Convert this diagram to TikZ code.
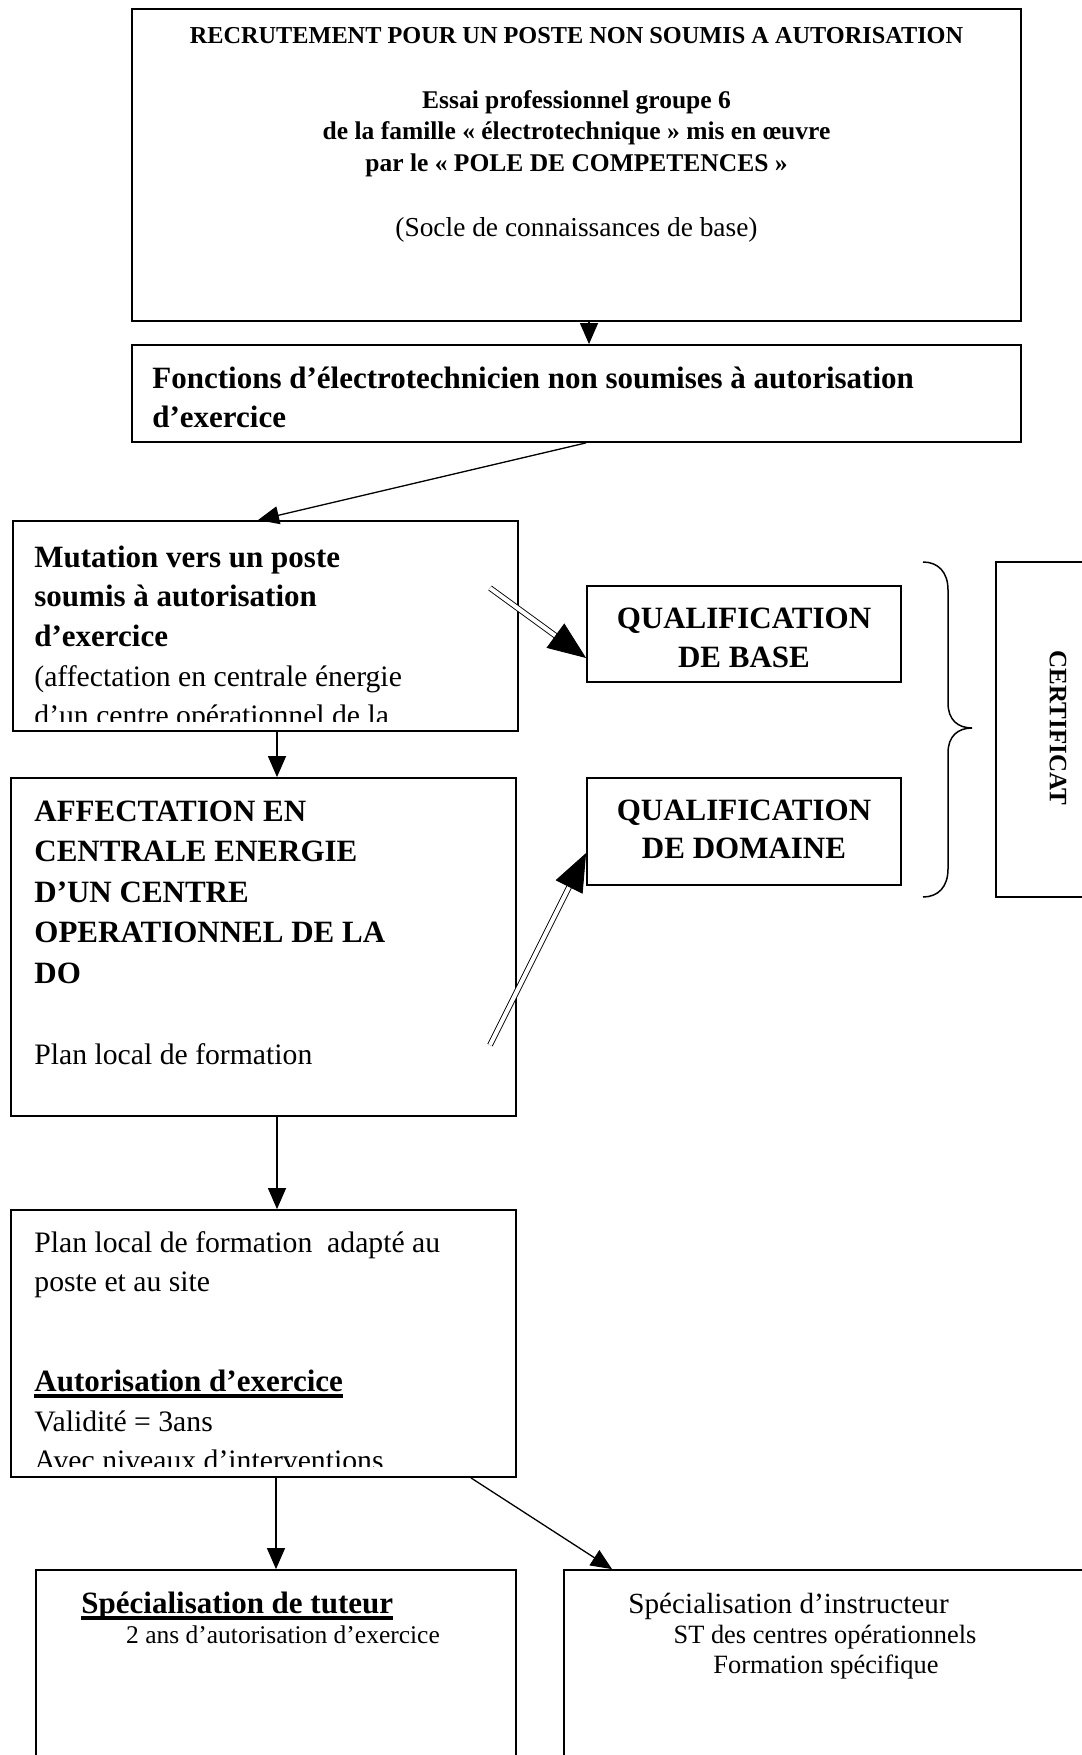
\documentclass[tikz,border=0pt]{standalone}
\usepackage{fontspec}
\setmainfont{Liberation Serif}
\usetikzlibrary{arrows.meta}
\newcommand\myul[1]{\setbox0=\hbox{#1}\rlap{\rule[-3.25pt]{\wd0}{2pt}}\box0}
\begin{document}
\begin{tikzpicture}[x=0.5pt,y=-0.5pt,
  box/.style={draw, line width=0.9pt, inner sep=0pt},
  arr/.style={line width=0.65pt, -{Triangle[length=10.5pt,width=9pt]}},
  dbl/.style={double, line width=0.45pt, double distance=2pt, -{Triangle[length=19pt,width=15pt]}},
  bracepath/.style={line width=0.75pt},
  lbl/.style={inner sep=0pt},
  bigb/.style={lbl, font=\bfseries\fontsize{15.5}{18.5}\selectfont},
  bigr/.style={lbl, font=\fontsize{14.85}{18}\selectfont},
  topb/.style={lbl, font=\bfseries\fontsize{12.75}{15}\selectfont},
  titleb/.style={lbl, font=\bfseries\fontsize{12.15}{15}\selectfont},
  socle/.style={lbl, font=\fontsize{13.7}{16}\selectfont},
  smallr/.style={lbl, font=\fontsize{13.2}{16}\selectfont},
  certb/.style={lbl, font=\bfseries\fontsize{12.5}{15}\selectfont}
]
\useasboundingbox (0,0) rectangle (1081,1755);

% ---------- boxes ----------
\node[box, minimum width=444.5pt, minimum height=156pt] (top) at (576.5,165) {};
\node[box, minimum width=444.5pt, minimum height=48.5pt] (fonc) at (576.5,393.5) {};
\node[box, minimum width=252.5pt, minimum height=105pt] (mut) at (265.5,626) {};
\node[box, minimum width=157pt, minimum height=48pt] (qb) at (744,634) {};
\node[box, minimum width=157pt, minimum height=53.5pt] (qd) at (744,831.5) {};
\node[box, minimum width=62pt, minimum height=167.5pt] (cert) at (1058,729.5) {};
\node[box, minimum width=252.5pt, minimum height=169pt] (aff) at (263.5,947) {};
\node[box, minimum width=252.5pt, minimum height=133.5pt] (plan) at (263.5,1343.5) {};
\node[box, minimum width=240pt, minimum height=150pt] (tut) at (276,1720) {};
\node[box, minimum width=318pt, minimum height=150pt] (inst) at (882,1720) {};

% ---------- top box text ----------
\node[titleb, anchor=base] (t1) at (576.5,44) {RECRUTEMENT POUR UN POSTE NON SOUMIS A AUTORISATION};
\node[topb, anchor=base] (t2) at (576.5,109) {Essai professionnel groupe 6};
\node[topb, anchor=base] (t3) at (576.5,140) {de la famille « électrotechnique » mis en œuvre};
\node[topb, anchor=base] (t4) at (576.5,172) {par le « POLE DE COMPETENCES »};
\node[socle, anchor=base] (t5) at (576.5,237) {(Socle de connaissances de base)};

% ---------- fonctions ----------
\node[bigb, anchor=base west] (f1) at (152,388) {Fonctions d’électrotechnicien non soumises à autorisation};
\node[bigb, anchor=base west] (f2) at (152,427) {d’exercice};

% ---------- mutation (clipped text) ----------
\begin{scope}
  \clip (mut.north west) rectangle (518,721);
  \node[bigb, anchor=base west] (m1) at (34,567) {Mutation vers un poste};
  \node[bigb, anchor=base west] (m2) at (34,606.5) {soumis à autorisation};
  \node[bigb, anchor=base west] (m3) at (34,646) {d’exercice};
  \node[bigr, anchor=base west] (m4) at (34,686) {(affectation en centrale énergie};
  \node[bigr, anchor=base west] (m5) at (34,725.5) {d’un centre opérationnel de la};
\end{scope}

% ---------- qualifications ----------
\node[bigb, anchor=base] (q1) at (744,628) {QUALIFICATION};
\node[bigb, anchor=base] (q2) at (744,667) {DE BASE};
\node[bigb, anchor=base] (q3) at (744,820) {QUALIFICATION};
\node[bigb, anchor=base] (q4) at (744,858) {DE DOMAINE};

% ---------- certificat ----------
\node[certb, rotate=-90] (c1) at (1058,728) {CERTIFICAT};

% ---------- brace ----------
\draw[bracepath] (923,562) .. controls (938,562) and (948,572) .. (948,590)
  -- (948,703) .. controls (948,720) and (958,728) .. (972,728)
  .. controls (958,728) and (948,736) .. (948,753)
  -- (948,869) .. controls (948,887) and (938,897) .. (923,897);

% ---------- affectation ----------
\node[bigb, anchor=base west] (a1) at (34,821) {AFFECTATION EN};
\node[bigb, anchor=base west] (a2) at (34,861.5) {CENTRALE ENERGIE};
\node[bigb, anchor=base west] (a3) at (34,902) {D’UN CENTRE};
\node[bigb, anchor=base west] (a4) at (34,942) {OPERATIONNEL DE LA};
\node[bigb, anchor=base west] (a5) at (34,983) {DO};
\node[bigr, anchor=base west] (a6) at (34,1064) {Plan local de formation};

% ---------- plan local (clipped text) ----------
\begin{scope}
  \clip (plan.north west) rectangle (516,1466);
  \node[bigr, anchor=base west] (p1) at (34,1252) {Plan local de formation\ \ adapté au};
  \node[bigr, anchor=base west] (p2) at (34,1291) {poste et au site};
  \node[bigb, anchor=base west] (p3) at (34,1391) {\myul{Autorisation d’exercice}};
  \node[bigr, anchor=base west] (p4) at (34,1431) {Validité = 3ans};
  \node[bigr, anchor=base west] (p5) at (34,1470) {Avec niveaux d’interventions};
\end{scope}

% ---------- bottom boxes text ----------
\node[bigb, anchor=base west] (u1) at (81,1613) {\myul{Spécialisation de tuteur}};
\node[lbl, font=\fontsize{12.75}{15}\selectfont, anchor=base] (u2) at (283,1643) {2 ans d’autorisation d’exercice};
\node[lbl, font=\fontsize{14.6}{17}\selectfont, anchor=base west] (i1) at (628,1613) {Spécialisation d’instructeur};
\node[smallr, anchor=base] (i2) at (825,1643) {ST des centres opérationnels};
\node[smallr, anchor=base] (i3) at (826,1673) {Formation spécifique};

% ---------- connectors ----------
\coordinate (xa) at (589,0);
\coordinate (xb) at (586,0);
\coordinate (xc) at (258,0);
\coordinate (xd) at (277,0);
\coordinate (xe) at (276,0);
\coordinate (xf) at (471,0);
\coordinate (xg) at (612,0);
\coordinate (d1) at (490,588);
\coordinate (k1) at (0,658);
\coordinate (d2) at (490,1045);
\coordinate (k2) at (0,853);

\draw[arr] (top.south -| xa) -- (fonc.north -| xa);
\draw[arr] (fonc.south -| xb) -- (mut.north -| xc);
\draw[arr] (mut.south -| xd) -- (aff.north -| xd);
\draw[arr] (aff.south -| xd) -- (plan.north -| xd);
\draw[arr] (plan.south -| xe) -- (tut.north -| xe);
\draw[arr] (plan.south -| xf) -- (inst.north -| xg);
\draw[dbl] (d1) -- (qb.west |- k1);
\draw[dbl] (d2) -- (qd.west |- k2);
\end{tikzpicture}
\end{document}
